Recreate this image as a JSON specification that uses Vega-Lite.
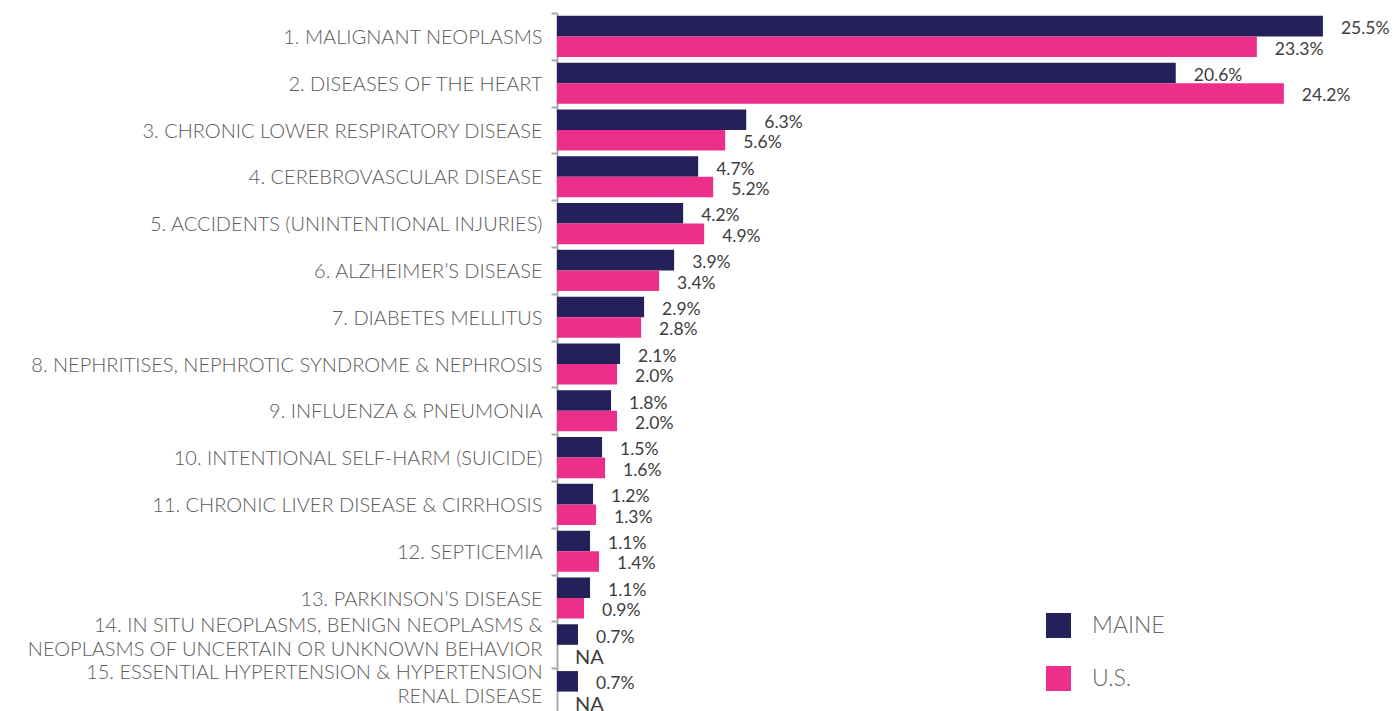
{
  "$schema": "https://vega.github.io/schema/vega-lite/v6.json",
  "width": 838,
  "height": 702,
  "autosize": {"type": "none"},
  "padding": {"left": 557, "top": 13, "right": 0, "bottom": 0},
  "config": {"view": {"stroke": null}, "font": "Lato"},
  "data": {
    "values": [
      {"cause": "1. MALIGNANT NEOPLASMS", "region": "MAINE", "value": 25.5, "label": "25.5%"},
      {"cause": "1. MALIGNANT NEOPLASMS", "region": "U.S.", "value": 23.3, "label": "23.3%"},
      {"cause": "2. DISEASES OF THE HEART", "region": "MAINE", "value": 20.6, "label": "20.6%"},
      {"cause": "2. DISEASES OF THE HEART", "region": "U.S.", "value": 24.2, "label": "24.2%"},
      {"cause": "3. CHRONIC LOWER RESPIRATORY DISEASE", "region": "MAINE", "value": 6.3, "label": "6.3%"},
      {"cause": "3. CHRONIC LOWER RESPIRATORY DISEASE", "region": "U.S.", "value": 5.6, "label": "5.6%"},
      {"cause": "4. CEREBROVASCULAR DISEASE", "region": "MAINE", "value": 4.7, "label": "4.7%"},
      {"cause": "4. CEREBROVASCULAR DISEASE", "region": "U.S.", "value": 5.2, "label": "5.2%"},
      {"cause": "5. ACCIDENTS (UNINTENTIONAL INJURIES)", "region": "MAINE", "value": 4.2, "label": "4.2%"},
      {"cause": "5. ACCIDENTS (UNINTENTIONAL INJURIES)", "region": "U.S.", "value": 4.9, "label": "4.9%"},
      {"cause": "6. ALZHEIMER’S DISEASE", "region": "MAINE", "value": 3.9, "label": "3.9%"},
      {"cause": "6. ALZHEIMER’S DISEASE", "region": "U.S.", "value": 3.4, "label": "3.4%"},
      {"cause": "7. DIABETES MELLITUS", "region": "MAINE", "value": 2.9, "label": "2.9%"},
      {"cause": "7. DIABETES MELLITUS", "region": "U.S.", "value": 2.8, "label": "2.8%"},
      {"cause": "8. NEPHRITISES, NEPHROTIC SYNDROME & NEPHROSIS", "region": "MAINE", "value": 2.1, "label": "2.1%"},
      {"cause": "8. NEPHRITISES, NEPHROTIC SYNDROME & NEPHROSIS", "region": "U.S.", "value": 2.0, "label": "2.0%"},
      {"cause": "9. INFLUENZA & PNEUMONIA", "region": "MAINE", "value": 1.8, "label": "1.8%"},
      {"cause": "9. INFLUENZA & PNEUMONIA", "region": "U.S.", "value": 2.0, "label": "2.0%"},
      {"cause": "10. INTENTIONAL SELF-HARM (SUICIDE)", "region": "MAINE", "value": 1.5, "label": "1.5%"},
      {"cause": "10. INTENTIONAL SELF-HARM (SUICIDE)", "region": "U.S.", "value": 1.6, "label": "1.6%"},
      {"cause": "11. CHRONIC LIVER DISEASE & CIRRHOSIS", "region": "MAINE", "value": 1.2, "label": "1.2%"},
      {"cause": "11. CHRONIC LIVER DISEASE & CIRRHOSIS", "region": "U.S.", "value": 1.3, "label": "1.3%"},
      {"cause": "12. SEPTICEMIA", "region": "MAINE", "value": 1.1, "label": "1.1%"},
      {"cause": "12. SEPTICEMIA", "region": "U.S.", "value": 1.4, "label": "1.4%"},
      {"cause": "13. PARKINSON’S DISEASE", "region": "MAINE", "value": 1.1, "label": "1.1%"},
      {"cause": "13. PARKINSON’S DISEASE", "region": "U.S.", "value": 0.9, "label": "0.9%"},
      {"cause": "14. IN SITU NEOPLASMS, BENIGN NEOPLASMS &|NEOPLASMS OF UNCERTAIN OR UNKNOWN BEHAVIOR", "region": "MAINE", "value": 0.7, "label": "0.7%"},
      {"cause": "14. IN SITU NEOPLASMS, BENIGN NEOPLASMS &|NEOPLASMS OF UNCERTAIN OR UNKNOWN BEHAVIOR", "region": "U.S.", "value": null, "label": "NA"},
      {"cause": "15. ESSENTIAL HYPERTENSION & HYPERTENSION|RENAL DISEASE", "region": "MAINE", "value": 0.7, "label": "0.7%"},
      {"cause": "15. ESSENTIAL HYPERTENSION & HYPERTENSION|RENAL DISEASE", "region": "U.S.", "value": null, "label": "NA"}
    ]
  },
  "encoding": {
    "y": {
      "field": "cause",
      "type": "nominal",
      "sort": null,
      "scale": {"paddingInner": 0, "paddingOuter": 0},
      "axis": {
        "title": null,
        "labelExpr": "split(datum.label, '|')",
        "labelLimit": 700,
        "labelFontSize": 20,
        "labelFont": "Lato",
        "labelFontWeight": 300,
        "labelColor": "#5a5a5a",
        "labelLineHeight": 24,
        "labelPadding": 9,
        "labelOffset": {"condition": {"test": "indexof('' + datum.value, '|') >= 0", "value": -19}, "value": 1},
        "domainColor": "#aaaaaa",
        "domainWidth": 2,
        "tickColor": "#aaaaaa",
        "tickWidth": 2,
        "tickSize": 6,
        "tickBand": "extent"
      }
    },
    "yOffset": {
      "field": "region",
      "type": "nominal",
      "sort": ["MAINE", "U.S."],
      "scale": {"paddingInner": 0, "paddingOuter": 0.14}
    }
  },
  "layer": [
    {
      "mark": {"type": "bar"},
      "encoding": {
        "x": {
          "field": "value",
          "type": "quantitative",
          "scale": {"domain": [0, 27.9], "nice": false},
          "axis": null
        },
        "color": {
          "field": "region",
          "type": "nominal",
          "scale": {"domain": ["MAINE", "U.S."], "range": ["#24205a", "#eb2f8b"]},
          "legend": {
            "title": null,
            "orient": "none",
            "legendX": 489,
            "legendY": 600,
            "symbolType": "square",
            "symbolSize": 625,
            "symbolStrokeWidth": 0,
            "symbolOpacity": 1,
            "labelFontSize": 23,
            "labelFont": "Lato",
            "labelFontWeight": 300,
            "labelColor": "#666666",
            "labelOffset": 21,
            "rowPadding": 28
          }
        }
      }
    },
    {
      "transform": [{"calculate": "isValid(datum.value) ? datum.value : 0", "as": "xv"}],
      "mark": {"type": "text", "align": "left", "baseline": "middle", "dx": 18, "dy": 3, "font": "Lato", "color": "#3d3d3d"},
      "encoding": {
        "x": {"field": "xv", "type": "quantitative"},
        "text": {"field": "label"},
        "size": {"condition": {"test": "datum.label === 'NA'", "value": 20}, "value": 17.5}
      }
    }
  ]
}
